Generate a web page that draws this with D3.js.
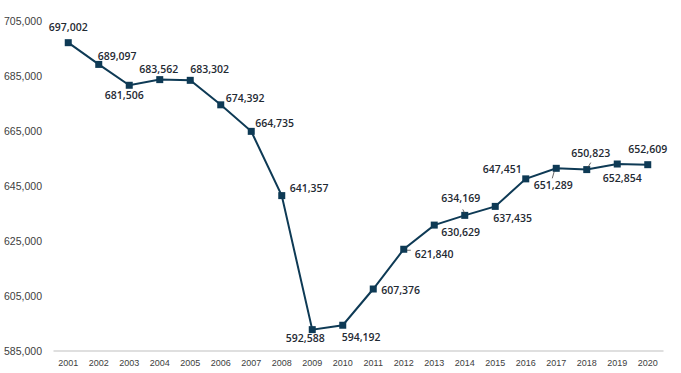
<!DOCTYPE html>
<html>
<head>
<meta charset="utf-8">
<script src="https://cdn.jsdelivr.net/npm/d3@7"></script>
<style>
  html, body { margin: 0; padding: 0; background: #fff; }
  svg { display: block; font-family: "Open Sans", "Noto Sans", sans-serif; }
</style>
</head>
<body>
<script>
// chart data
var years = ["2001", "2002", "2003", "2004", "2005", "2006", "2007", "2008", "2009", "2010",
             "2011", "2012", "2013", "2014", "2015", "2016", "2017", "2018", "2019", "2020"];
var values = [697002, 689097, 681506, 683562, 683302, 674392, 664735, 641357, 592588, 594192,
              607376, 621840, 630629, 634169, 637435, 647451, 651289, 650823, 652854, 652609];
var yTicks = [585000, 605000, 625000, 645000, 665000, 685000, 705000];

// where each data label sits relative to its marker: [dx, dy, anchor, leader?]
var labelOffsets = [
    [0, -15, "middle"], [-1, -8, "start"], [-5, 10, "middle"], [-1, -10, "middle"],
    [0, -11, "start"], [5, -6, "start"], [4, -8, "start"], [8, -7, "start"],
    [-7, 9, "middle"], [-1, 12, "start"], [8, 1, "start"], [11, 5, "start", [[3, 1], [7, 1]]],
    [7, 7, "start"], [-4, -17, "middle", [[-2, -6], [0, -2]]], [-2, 12, "start"],
    [-4, -10, "end"], [-3, 17, "middle", [[-2, 3], [-4, 10]]],
    [4, -16, "middle", [[1, -2], [4, -7]]], [5, 14, "middle"], [0, -15, "middle"]
];

var W = 681, H = 373;
var navy = "#0e3a55";

var svg = d3.select("body").append("svg")
    .attr("width", W)
    .attr("height", H);

var x = d3.scaleBand().domain(years).range([53, 663]);
var y = d3.scaleLinear().domain([585000, 705000]).range([350.5, 20.7]);
var cx = function(d, i) { return x(years[i]) + x.bandwidth() / 2; };

// y axis labels, no line
var yAxis = d3.axisLeft(y).tickValues(yTicks).tickSize(0).tickPadding(0)
    .tickFormat(d3.format(","));
var gy = svg.append("g").attr("transform", "translate(42,0)").call(yAxis);
gy.select(".domain").remove();
gy.selectAll("text")
    .attr("fill", "#404040")
    .style("font-size", "10.5px")
    .attr("dy", "0.35em");

// x axis: grey baseline, year labels below
var xAxis = d3.axisBottom(x).tickSize(0).tickPadding(9);
var gx = svg.append("g").attr("transform", "translate(0," + y(585000) + ")").call(xAxis);
gx.select(".domain").attr("stroke", "#bfbfbf").attr("stroke-width", 1.2);
gx.selectAll("text")
    .attr("fill", "#404040")
    .style("font-size", "9px");

// line
var line = d3.line()
    .x(function(d, i) { return cx(d, i); })
    .y(function(d) { return y(d); });

svg.append("path")
    .datum(values)
    .attr("d", line)
    .attr("fill", "none")
    .attr("stroke", navy)
    .attr("stroke-width", 2);

// square markers
var ms = 7;
svg.selectAll("rect.marker")
    .data(values)
    .enter()
    .append("rect")
    .attr("class", "marker")
    .attr("x", function(d, i) { return cx(d, i) - ms / 2; })
    .attr("y", function(d) { return y(d) - ms / 2; })
    .attr("width", ms)
    .attr("height", ms)
    .attr("fill", navy);

// leader lines
values.forEach(function(d, i) {
    var lead = labelOffsets[i][3];
    if (lead) {
        svg.append("line")
            .attr("x1", cx(d, i) + lead[0][0])
            .attr("y1", y(d) + lead[0][1])
            .attr("x2", cx(d, i) + lead[1][0])
            .attr("y2", y(d) + lead[1][1])
            .attr("stroke", "#404040")
            .attr("stroke-width", 0.8);
    }
});

// data labels
svg.selectAll("text.val")
    .data(values)
    .enter()
    .append("text")
    .attr("class", "val")
    .attr("x", function(d, i) { return cx(d, i) + labelOffsets[i][0]; })
    .attr("y", function(d, i) { return y(d) + labelOffsets[i][1]; })
    .attr("dy", "0.35em")
    .attr("text-anchor", function(d, i) { return labelOffsets[i][2]; })
    .attr("fill", "#1f2a33")
    .style("font-size", "10.5px")
    .style("font-weight", 600)
    .text(function(d) { return d3.format(",")(d); });
</script>
</body>
</html>
